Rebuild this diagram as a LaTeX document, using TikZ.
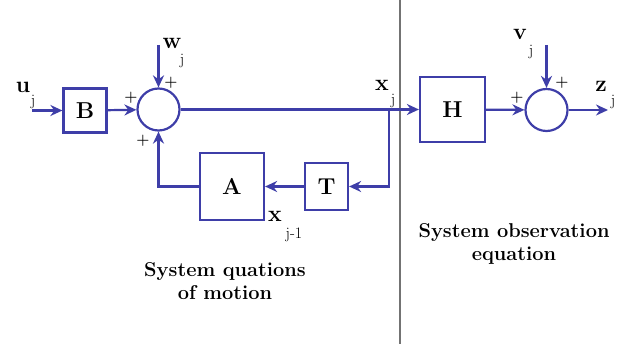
\documentclass[tikz,border=0pt]{standalone}
\usepackage{fontspec}
\usepackage{tikz}
\usetikzlibrary{arrows.meta, positioning}
\definecolor{sysblue}{RGB}{62,62,168}

\begin{document}
\begin{tikzpicture}[x=1pt, y=-1pt, >={Stealth[length=12pt,width=11pt]},
		sig/.style={sysblue, line width=2.2pt},
		blk/.style={draw=sysblue, line width=2.2pt, inner sep=0pt,
			font=\bfseries\fontsize{23}{23}\selectfont},
		sumnode/.style={circle, draw=sysblue, line width=2.2pt,
			minimum size=42pt, inner sep=0pt},
		lbl/.style={font=\bfseries\fontsize{23}{23}\selectfont, inner sep=0pt},
		sublbl/.style={font=\fontsize{16}{16}\selectfont, inner sep=0pt},
		plus/.style={font=\bfseries\fontsize{15}{15}\selectfont, inner sep=0pt},
		caption/.style={align=center, font=\bfseries\fontsize{20}{23}\selectfont}]
		
		\useasboundingbox (0,0) rectangle (621,344);
		
		% dividing line
		\draw[gray!90!black, line width=1.6pt] (400,0) -- (400,344);
		
		% blocks
		\node[blk, minimum width=43pt, minimum height=44pt] (B) at (85,110.5) {B};
		\node[sumnode] (S1) at (158.5,109.5) {};
		\node[blk, minimum width=64pt, minimum height=67pt] (A) at (232,186.5) {A};
		\node[blk, minimum width=43pt, minimum height=47pt] (T) at (326.5,186.5) {T};
		\node[blk, minimum width=65pt, minimum height=65pt] (H) at (452.5,109.5) {H};
		\node[sumnode] (S2) at (546.5,110) {};
		
		% free ends
		\coordinate (uin) at (32,110.5);
		\coordinate (win) at (158.5,45);
		\coordinate (vin) at (546.5,45);
		\coordinate (zout) at (608,110);
		\coordinate (xb) at (389,109.5);
		
		% signal lines
		\draw[sig, ->] (uin) -- (B);
		\draw[sig, ->] (B) -- (S1);
		\draw[sig, ->] (win) -- (S1);
		\draw[sig, ->] (S1) -- (H);
		\draw[sig, ->] (xb) |- (T);
		\draw[sig, ->] (T) -- (A);
		\draw[sig, ->] (A) -| (S1);
		\draw[sig, ->] (H) -- (S2);
		\draw[sig, ->] (vin) -- (S2);
		\draw[sig, ->] (S2) -- (zout);
		
		% signal names
		\node[lbl] (u) at (23,87) {u};
		\node[sublbl] (uj) at (33,102) {j};
		\node[lbl] (w) at (172,43) {w};
		\node[sublbl] (wj) at (182,61) {j};
		\node[lbl] (x) at (382,85) {x};
		\node[sublbl] (xj) at (393,101) {j};
		\node[lbl] (xp) at (275,216) {x};
		\node[sublbl] (xpj) at (294,235) {j-1};
		\node[lbl] (v) at (520,34) {v};
		\node[sublbl] (vj) at (531,52) {j};
		\node[lbl] (z) at (601,86) {z};
		\node[sublbl] (zj) at (613,102) {j};
		
		% signs
		\node[plus] (p1) at (131,98) {+};
		\node[plus] (p2) at (171,83) {+};
		\node[plus] (p3) at (143,141) {+};
		\node[plus] (p4) at (517,98) {+};
		\node[plus] (p5) at (562,83) {+};
		
		% captions
		\node[caption] (motion) at (225,281) {System quations\\of motion};
		\node[caption] (observe) at (514,244) {System observation\\equation};
		
	\end{tikzpicture}
\end{document}
